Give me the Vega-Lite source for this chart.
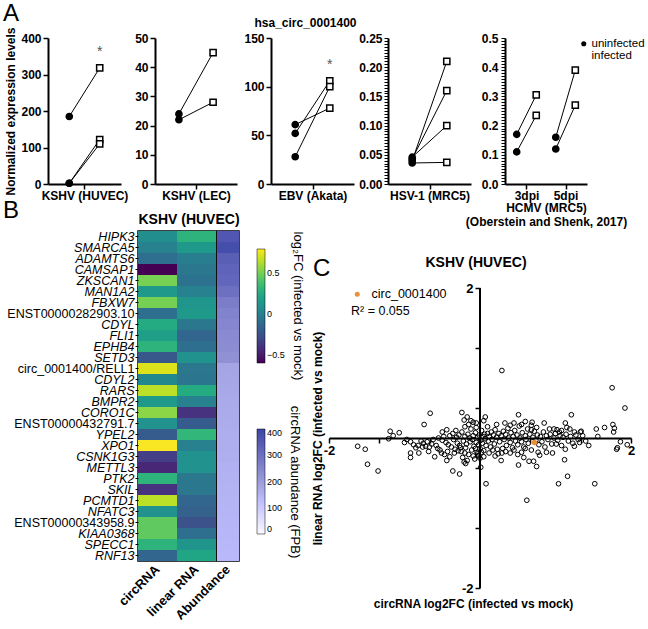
{
"$schema":"https://vega.github.io/schema/vega-lite/v6.json",
"padding":{"left":0,"top":1,"right":0,"bottom":0},
"title":{"text":"A","anchor":"start","fontSize":24,"fontWeight":"normal","offset":-14,"dx":3},
"columns":1,
"align":"none",
"spacing":-28,
"resolve":{"scale":{"color":"independent","shape":"independent","fill":"independent"},"legend":{"color":"independent","shape":"independent","fill":"independent"}},
"config":{
 "font":"Liberation Sans",
 "view":{"stroke":null},
 "axis":{"domainColor":"black","domainWidth":2,"tickColor":"black","tickWidth":1.5,"tickSize":5,"labelColor":"black","titleColor":"black","grid":false,"labelFontSize":12,"labelFontWeight":"bold","titleFontSize":12,"titleFontWeight":"bold","labelPadding":2},
 "title":{"color":"black"},
 "legend":{"labelColor":"black","titleColor":"black","padding":0}
},
"datasets":{
 "pA":[
  {"panel":"p1","grp":"uninfected","cond":"uninfected","pair":"a","val":185},
  {"panel":"p1","grp":"infected","cond":"infected","pair":"a","val":318},
  {"panel":"p1","grp":"uninfected","cond":"uninfected","pair":"b","val":2},
  {"panel":"p1","grp":"infected","cond":"infected","pair":"b","val":122},
  {"panel":"p1","grp":"uninfected","cond":"uninfected","pair":"c","val":2},
  {"panel":"p1","grp":"infected","cond":"infected","pair":"c","val":110},
  {"panel":"p2","grp":"uninfected","cond":"uninfected","pair":"a","val":24},
  {"panel":"p2","grp":"infected","cond":"infected","pair":"a","val":45},
  {"panel":"p2","grp":"uninfected","cond":"uninfected","pair":"b","val":22},
  {"panel":"p2","grp":"infected","cond":"infected","pair":"b","val":28},
  {"panel":"p3","grp":"uninfected","cond":"uninfected","pair":"a","val":61},
  {"panel":"p3","grp":"infected","cond":"infected","pair":"a","val":78},
  {"panel":"p3","grp":"uninfected","cond":"uninfected","pair":"b","val":52},
  {"panel":"p3","grp":"infected","cond":"infected","pair":"b","val":106},
  {"panel":"p3","grp":"uninfected","cond":"uninfected","pair":"c","val":28},
  {"panel":"p3","grp":"infected","cond":"infected","pair":"c","val":100},
  {"panel":"p4","grp":"uninfected","cond":"uninfected","pair":"a","val":0.040},
  {"panel":"p4","grp":"infected","cond":"infected","pair":"a","val":0.21},
  {"panel":"p4","grp":"uninfected","cond":"uninfected","pair":"b","val":0.043},
  {"panel":"p4","grp":"infected","cond":"infected","pair":"b","val":0.16},
  {"panel":"p4","grp":"uninfected","cond":"uninfected","pair":"c","val":0.046},
  {"panel":"p4","grp":"infected","cond":"infected","pair":"c","val":0.10},
  {"panel":"p4","grp":"uninfected","cond":"uninfected","pair":"d","val":0.036},
  {"panel":"p4","grp":"infected","cond":"infected","pair":"d","val":0.037},
  {"panel":"p5","grp":"3dpi|uninfected","cond":"uninfected","pair":"a","val":0.17},
  {"panel":"p5","grp":"3dpi|infected","cond":"infected","pair":"a","val":0.305},
  {"panel":"p5","grp":"3dpi|uninfected","cond":"uninfected","pair":"b","val":0.11},
  {"panel":"p5","grp":"3dpi|infected","cond":"infected","pair":"b","val":0.235},
  {"panel":"p5","grp":"5dpi|uninfected","cond":"uninfected","pair":"c","val":0.16},
  {"panel":"p5","grp":"5dpi|infected","cond":"infected","pair":"c","val":0.39},
  {"panel":"p5","grp":"5dpi|uninfected","cond":"uninfected","pair":"d","val":0.12},
  {"panel":"p5","grp":"5dpi|infected","cond":"infected","pair":"d","val":0.27}
 ],
 "stars":[
  {"panel":"p1","grp":"infected","val":318,"sig":"*"},
  {"panel":"p3","grp":"infected","val":106,"sig":"*"}
 ],
 "hm":[
  {"gene":"HIPK3","type":"circRNA","fc":0.08},{"gene":"HIPK3","type":"linear RNA","fc":0.3},
  {"gene":"SMARCA5","type":"circRNA","fc":0.0},{"gene":"SMARCA5","type":"linear RNA","fc":0.15},
  {"gene":"ADAMTS6","type":"circRNA","fc":-0.1},{"gene":"ADAMTS6","type":"linear RNA","fc":-0.02},
  {"gene":"CAMSAP1","type":"circRNA","fc":-0.6},{"gene":"CAMSAP1","type":"linear RNA","fc":-0.05},
  {"gene":"ZKSCAN1","type":"circRNA","fc":0.5},{"gene":"ZKSCAN1","type":"linear RNA","fc":-0.08},
  {"gene":"MAN1A2","type":"circRNA","fc":0.15},{"gene":"MAN1A2","type":"linear RNA","fc":0.0},
  {"gene":"FBXW7","type":"circRNA","fc":0.5},{"gene":"FBXW7","type":"linear RNA","fc":0.12},
  {"gene":"ENST00000282903.10","type":"circRNA","fc":-0.1},{"gene":"ENST00000282903.10","type":"linear RNA","fc":0.15},
  {"gene":"CDYL","type":"circRNA","fc":0.25},{"gene":"CDYL","type":"linear RNA","fc":-0.05},
  {"gene":"FLI1","type":"circRNA","fc":0.18},{"gene":"FLI1","type":"linear RNA","fc":-0.15},
  {"gene":"EPHB4","type":"circRNA","fc":0.3},{"gene":"EPHB4","type":"linear RNA","fc":-0.1},
  {"gene":"SETD3","type":"circRNA","fc":-0.22},{"gene":"SETD3","type":"linear RNA","fc":0.1},
  {"gene":"circ_0001400/RELL1","type":"circRNA","fc":0.72},{"gene":"circ_0001400/RELL1","type":"linear RNA","fc":-0.05},
  {"gene":"CDYL2","type":"circRNA","fc":0.05},{"gene":"CDYL2","type":"linear RNA","fc":-0.06},
  {"gene":"RARS","type":"circRNA","fc":0.65},{"gene":"RARS","type":"linear RNA","fc":0.25},
  {"gene":"BMPR2","type":"circRNA","fc":0.15},{"gene":"BMPR2","type":"linear RNA","fc":0.0},
  {"gene":"CORO1C","type":"circRNA","fc":0.55},{"gene":"CORO1C","type":"linear RNA","fc":-0.4},
  {"gene":"ENST00000432791.7","type":"circRNA","fc":0.1},{"gene":"ENST00000432791.7","type":"linear RNA","fc":-0.2},
  {"gene":"YPEL2","type":"circRNA","fc":-0.2},{"gene":"YPEL2","type":"linear RNA","fc":0.32},
  {"gene":"XPO1","type":"circRNA","fc":0.78},{"gene":"XPO1","type":"linear RNA","fc":0.0},
  {"gene":"CSNK1G3","type":"circRNA","fc":-0.35},{"gene":"CSNK1G3","type":"linear RNA","fc":0.1},
  {"gene":"METTL3","type":"circRNA","fc":-0.45},{"gene":"METTL3","type":"linear RNA","fc":0.1},
  {"gene":"PTK2","type":"circRNA","fc":0.3},{"gene":"PTK2","type":"linear RNA","fc":-0.05},
  {"gene":"SKIL","type":"circRNA","fc":-0.4},{"gene":"SKIL","type":"linear RNA","fc":-0.05},
  {"gene":"PCMTD1","type":"circRNA","fc":0.65},{"gene":"PCMTD1","type":"linear RNA","fc":-0.15},
  {"gene":"NFATC3","type":"circRNA","fc":0.1},{"gene":"NFATC3","type":"linear RNA","fc":-0.18},
  {"gene":"ENST00000343958.9","type":"circRNA","fc":0.45},{"gene":"ENST00000343958.9","type":"linear RNA","fc":-0.25},
  {"gene":"KIAA0368","type":"circRNA","fc":0.45},{"gene":"KIAA0368","type":"linear RNA","fc":-0.1},
  {"gene":"SPECC1","type":"circRNA","fc":0.3},{"gene":"SPECC1","type":"linear RNA","fc":0.12},
  {"gene":"RNF13","type":"circRNA","fc":-0.15},{"gene":"RNF13","type":"linear RNA","fc":0.22}
 ],
 "ab":[
  {"gene":"HIPK3","type":"Abundance","fpb":360},
  {"gene":"SMARCA5","type":"Abundance","fpb":380},
  {"gene":"ADAMTS6","type":"Abundance","fpb":340},
  {"gene":"CAMSAP1","type":"Abundance","fpb":330},
  {"gene":"ZKSCAN1","type":"Abundance","fpb":320},
  {"gene":"MAN1A2","type":"Abundance","fpb":300},
  {"gene":"FBXW7","type":"Abundance","fpb":270},
  {"gene":"ENST00000282903.10","type":"Abundance","fpb":255},
  {"gene":"CDYL","type":"Abundance","fpb":250},
  {"gene":"FLI1","type":"Abundance","fpb":240},
  {"gene":"EPHB4","type":"Abundance","fpb":235},
  {"gene":"SETD3","type":"Abundance","fpb":225},
  {"gene":"circ_0001400/RELL1","type":"Abundance","fpb":180},
  {"gene":"CDYL2","type":"Abundance","fpb":178},
  {"gene":"RARS","type":"Abundance","fpb":175},
  {"gene":"BMPR2","type":"Abundance","fpb":170},
  {"gene":"CORO1C","type":"Abundance","fpb":168},
  {"gene":"ENST00000432791.7","type":"Abundance","fpb":165},
  {"gene":"YPEL2","type":"Abundance","fpb":162},
  {"gene":"XPO1","type":"Abundance","fpb":160},
  {"gene":"CSNK1G3","type":"Abundance","fpb":158},
  {"gene":"METTL3","type":"Abundance","fpb":155},
  {"gene":"PTK2","type":"Abundance","fpb":152},
  {"gene":"SKIL","type":"Abundance","fpb":150},
  {"gene":"PCMTD1","type":"Abundance","fpb":148},
  {"gene":"NFATC3","type":"Abundance","fpb":146},
  {"gene":"ENST00000343958.9","type":"Abundance","fpb":144},
  {"gene":"KIAA0368","type":"Abundance","fpb":142},
  {"gene":"SPECC1","type":"Abundance","fpb":140},
  {"gene":"RNF13","type":"Abundance","fpb":138}
 ],
 "hl":[{"name":"circ_0001400","x":0.72,"y":-0.06}],
 "sc":[
  {"x":-1.62,"y":-0.11},{"x":-1.52,"y":-0.15},{"x":-1.49,"y":-0.35},{"x":-1.35,"y":-0.44},{"x":-1.19,"y":0.09},{"x":-1.07,"y":0.07},{"x":-1.15,"y":0.03},{"x":-1.21,"y":-0.01},{"x":-0.92,"y":-0.05},{"x":-0.92,"y":-0.2},{"x":-0.92,"y":-0.26},{"x":-0.81,"y":-0.2},{"x":-0.74,"y":0.18},{"x":-0.66,"y":0.33},{"x":-0.75,"y":-0.07},{"x":-0.72,"y":-0.11},{"x":-0.67,"y":-0.12},{"x":-0.6,"y":-0.25},{"x":-0.56,"y":-0.14},{"x":-0.44,"y":0.11},{"x":-0.44,"y":-0.3},{"x":-0.36,"y":-0.44},{"x":-0.27,"y":-0.48},{"x":-0.24,"y":0.34},{"x":-0.17,"y":0.28},{"x":-0.21,"y":0.24},{"x":-0.12,"y":0.23},{"x":-0.09,"y":0.21},{"x":-0.05,"y":0.14},{"x":0.05,"y":0.23},{"x":0.07,"y":0.28},{"x":0.01,"y":-0.39},{"x":0.08,"y":-0.61},{"x":-0.21,"y":-0.32},{"x":-0.19,"y":-0.34},{"x":-0.03,"y":-0.21},{"x":-0.03,"y":-0.24},{"x":0.28,"y":-0.3},{"x":0.51,"y":0.31},{"x":0.51,"y":-0.36},{"x":0.58,"y":-0.26},{"x":0.65,"y":-0.31},{"x":0.71,"y":-0.31},{"x":0.75,"y":-0.38},{"x":0.69,"y":0.21},{"x":0.68,"y":0.17},{"x":0.68,"y":0.11},{"x":0.92,"y":0.12},{"x":1.02,"y":0.11},{"x":1.05,"y":0.08},{"x":1.13,"y":0.2},{"x":1.15,"y":0.14},{"x":1.19,"y":0.12},{"x":1.21,"y":0.31},{"x":1.34,"y":0.09},{"x":1.33,"y":0.08},{"x":1.54,"y":0.12},{"x":1.65,"y":0.14},{"x":1.76,"y":0.18},{"x":1.78,"y":0.13},{"x":1.77,"y":0.08},{"x":1.56,"y":0.02},{"x":1.44,"y":-0.1},{"x":1.25,"y":-0.11},{"x":1.32,"y":-0.06},{"x":1.13,"y":-0.15},{"x":1.12,"y":-0.29},{"x":1.16,"y":-0.51},{"x":1.04,"y":-0.61},{"x":1.52,"y":-0.61},{"x":1.81,"y":-0.15},{"x":1.82,"y":-0.13},{"x":1.86,"y":-0.05},{"x":1.95,"y":-0.09},{"x":1.92,"y":0.4},{"x":0.79,"y":-0.23},{"x":0.77,"y":-0.19},{"x":0.88,"y":-0.19},{"x":1.01,"y":-0.08},{"x":0.96,"y":-0.2},{"x":0.29,"y":0.9},{"x":1.75,"y":0.67},{"x":0.62,"y":-0.83},
  {"x":-0.55,"y":0.0},{"x":-0.5,"y":-0.03},{"x":-0.48,"y":0.02},{"x":-0.45,"y":-0.06},{"x":-0.42,"y":-0.09},{"x":-0.4,"y":0.03},{"x":-0.38,"y":-0.12},{"x":-0.36,"y":0.06},{"x":-0.35,"y":-0.02},{"x":-0.33,"y":-0.15},{"x":-0.31,"y":0.01},{"x":-0.3,"y":-0.07},{"x":-0.28,"y":0.04},{"x":-0.27,"y":-0.1},{"x":-0.25,"y":-0.18},{"x":-0.24,"y":0.08},{"x":-0.22,"y":-0.04},{"x":-0.2,"y":0.02},{"x":-0.19,"y":-0.13},{"x":-0.18,"y":-0.08},{"x":-0.16,"y":0.05},{"x":-0.15,"y":-0.22},{"x":-0.14,"y":0.0},{"x":-0.13,"y":-0.05},{"x":-0.12,"y":0.12},{"x":-0.11,"y":-0.16},{"x":-0.1,"y":-0.02},{"x":-0.09,"y":0.03},{"x":-0.08,"y":-0.11},{"x":-0.07,"y":-0.28},{"x":-0.06,"y":0.07},{"x":-0.05,"y":-0.06},{"x":-0.04,"y":-0.19},{"x":-0.03,"y":0.01},{"x":-0.02,"y":-0.09},{"x":-0.01,"y":0.04},{"x":0.0,"y":-0.14},{"x":0.01,"y":-0.03},{"x":0.02,"y":0.1},{"x":0.03,"y":-0.07},{"x":0.04,"y":0.02},{"x":0.05,"y":-0.17},{"x":0.06,"y":0.05},{"x":0.07,"y":-0.01},{"x":0.08,"y":-0.1},{"x":0.1,"y":0.06},{"x":0.11,"y":-0.04},{"x":0.12,"y":0.02},{"x":0.14,"y":-0.12},{"x":0.15,"y":0.08},{"x":0.16,"y":-0.02},{"x":0.18,"y":0.04},{"x":0.19,"y":-0.08},{"x":0.2,"y":0.11},{"x":0.22,"y":0.01},{"x":0.23,"y":-0.15},{"x":0.25,"y":0.06},{"x":0.26,"y":-0.05},{"x":0.28,"y":0.03},{"x":0.29,"y":-0.2},{"x":0.31,"y":0.09},{"x":0.32,"y":-0.02},{"x":0.34,"y":0.05},{"x":0.35,"y":-0.1},{"x":0.37,"y":0.13},{"x":0.38,"y":0.0},{"x":0.4,"y":-0.06},{"x":0.41,"y":0.07},{"x":0.43,"y":-0.13},{"x":0.44,"y":0.02},{"x":0.46,"y":0.1},{"x":0.47,"y":-0.04},{"x":0.49,"y":0.04},{"x":0.5,"y":-0.09},{"x":0.52,"y":0.16},{"x":0.53,"y":0.0},{"x":0.55,"y":-0.05},{"x":0.56,"y":0.07},{"x":0.58,"y":-0.12},{"x":0.6,"y":0.03},{"x":0.61,"y":-0.02},{"x":0.63,"y":0.12},{"x":0.64,"y":-0.07},{"x":0.66,"y":0.05},{"x":0.68,"y":-0.16},{"x":0.7,"y":0.01},{"x":0.72,"y":0.09},{"x":0.74,"y":-0.03},{"x":0.76,"y":0.04},{"x":0.78,"y":-0.09},{"x":0.8,"y":0.02},{"x":0.82,"y":-0.05},{"x":0.84,"y":0.08},{"x":0.86,"y":-0.12},{"x":0.88,"y":0.03},{"x":0.9,"y":-0.02},{"x":0.93,"y":0.05},{"x":0.95,"y":-0.08},{"x":0.98,"y":0.0},{"x":1.0,"y":0.06},{"x":1.03,"y":-0.03},{"x":1.06,"y":0.03},{"x":1.08,"y":-0.1},{"x":1.1,"y":0.01},{"x":1.14,"y":0.05},{"x":1.17,"y":-0.04},{"x":1.2,"y":0.02},{"x":1.23,"y":-0.07},{"x":1.27,"y":0.04},{"x":1.3,"y":-0.02},{"x":1.36,"y":0.03},{"x":1.4,"y":-0.04},
  {"x":-1.0,"y":-0.06},{"x":-0.97,"y":-0.02},{"x":-0.88,"y":-0.09},{"x":-0.85,"y":-0.13},{"x":-0.82,"y":-0.1},{"x":-0.78,"y":-0.04},{"x":-0.76,"y":-0.12},{"x":-0.7,"y":-0.05},{"x":-0.68,"y":-0.18},{"x":-0.64,"y":-0.08},{"x":-0.62,"y":-0.02},{"x":-0.58,"y":-0.1},{"x":-0.53,"y":-0.16},{"x":-0.51,"y":-0.2},{"x":-0.47,"y":-0.22},{"x":-0.43,"y":-0.18},{"x":-0.4,"y":-0.25},{"x":-0.34,"y":-0.2},{"x":-0.29,"y":-0.17},{"x":-0.26,"y":-0.13},{"x":-0.23,"y":-0.26},{"x":-0.2,"y":-0.2},{"x":-0.17,"y":-0.3},{"x":-0.09,"y":-0.24},{"x":-0.06,"y":-0.14},{"x":-0.02,"y":-0.23},{"x":0.0,"y":-0.27},{"x":0.02,"y":-0.19},{"x":0.05,"y":-0.25},{"x":0.12,"y":-0.2},{"x":0.17,"y":-0.16},{"x":0.2,"y":-0.24},{"x":0.24,"y":-0.21},{"x":0.3,"y":-0.14},{"x":0.34,"y":-0.18},{"x":0.4,"y":-0.2},{"x":0.45,"y":-0.16},{"x":0.5,"y":-0.22},{"x":0.55,"y":-0.19},{"x":0.6,"y":-0.14},
  {"x":-0.5,"y":0.08},{"x":-0.32,"y":0.1},{"x":-0.2,"y":0.15},{"x":-0.15,"y":0.18},{"x":-0.05,"y":0.2},{"x":0.1,"y":0.15},{"x":0.22,"y":0.18},{"x":0.33,"y":0.2},{"x":0.4,"y":0.17},{"x":0.45,"y":0.2},{"x":0.55,"y":0.18},{"x":0.6,"y":0.22},{"x":0.75,"y":0.14},{"x":0.85,"y":0.2},{"x":0.98,"y":0.12},{"x":1.08,"y":0.1},{"x":1.25,"y":0.08}
 ]
},
"concat":[
 {
  "spacing":34,
  "bounds":"flush",
  "resolve":{"scale":{"shape":"independent","fill":"independent"},"legend":{"shape":"independent","fill":"independent"}},
  "hconcat":[
   {"width":14,"height":1,"data":{"values":[]},"mark":{"type":"point","opacity":0}},
   {
    "width":73,"height":146,
    "title":{"text":" ","fontSize":12,"offset":2},
    "data":{"name":"pA"},
    "transform":[{"filter":"datum.panel==='p1'"}],
    "encoding":{
     "x":{"field":"grp","type":"nominal","scale":{"type":"point","domain":["uninfected","infected"],"padding":0.7},
      "axis":{"title":"KSHV (HUVEC)","labels":false,"tickOffset":15.2,"tickColor":{"condition":{"test":"datum.value==='infected'","value":"transparent"},"value":"black"},"titlePadding":1}},
     "y":{"field":"val","type":"quantitative","scale":{"domain":[0,400],"nice":false},"axis":{"title":"Normalized expression levels","values":[0,100,200,300,400],"titlePadding":3}}
    },
    "layer":[
     {"mark":{"type":"line","color":"black","strokeWidth":1},"encoding":{"detail":{"field":"pair"}}},
     {"mark":{"type":"point","filled":true,"stroke":"black","strokeWidth":1.5,"size":38,"opacity":1},
      "encoding":{"shape":{"field":"cond","type":"nominal","scale":{"domain":["uninfected","infected"],"range":["circle","square"]},"legend":null},
       "fill":{"field":"cond","type":"nominal","scale":{"domain":["uninfected","infected"],"range":["black","white"]},"legend":null}}},
     {"data":{"name":"stars"},"transform":[{"filter":"datum.panel==='p1'"}],"mark":{"type":"text","color":"#555555","fontSize":14,"dy":-16},"encoding":{"text":{"field":"sig"}}}
    ]
   },
   {
    "width":82,"height":146,
    "title":{"text":" ","fontSize":12,"offset":2},
    "data":{"name":"pA"},
    "transform":[{"filter":"datum.panel==='p2'"}],
    "encoding":{
     "x":{"field":"grp","type":"nominal","scale":{"type":"point","domain":["uninfected","infected"],"padding":0.7},
      "axis":{"title":"KSHV (LEC)","labels":false,"tickOffset":17.1,"tickColor":{"condition":{"test":"datum.value==='infected'","value":"transparent"},"value":"black"},"titlePadding":1}},
     "y":{"field":"val","type":"quantitative","scale":{"domain":[0,50],"nice":false},"axis":{"title":null,"values":[0,10,20,30,40,50]}}
    },
    "layer":[
     {"mark":{"type":"line","color":"black","strokeWidth":1},"encoding":{"detail":{"field":"pair"}}},
     {"mark":{"type":"point","filled":true,"stroke":"black","strokeWidth":1.5,"size":38,"opacity":1},
      "encoding":{"shape":{"field":"cond","type":"nominal","scale":{"domain":["uninfected","infected"],"range":["circle","square"]},"legend":null},
       "fill":{"field":"cond","type":"nominal","scale":{"domain":["uninfected","infected"],"range":["black","white"]},"legend":null}}}
    ]
   },
   {
    "width":83,"height":146,
    "title":{"text":"hsa_circ_0001400","fontSize":12,"fontWeight":"bold","offset":2,"dx":-7},
    "data":{"name":"pA"},
    "transform":[{"filter":"datum.panel==='p3'"}],
    "encoding":{
     "x":{"field":"grp","type":"nominal","scale":{"type":"point","domain":["uninfected","infected"],"padding":0.7},
      "axis":{"title":"EBV (Akata)","labels":false,"tickOffset":17.3,"tickColor":{"condition":{"test":"datum.value==='infected'","value":"transparent"},"value":"black"},"titlePadding":1}},
     "y":{"field":"val","type":"quantitative","scale":{"domain":[0,150],"nice":false},"axis":{"title":null,"values":[0,50,100,150]}}
    },
    "layer":[
     {"mark":{"type":"line","color":"black","strokeWidth":1},"encoding":{"detail":{"field":"pair"}}},
     {"mark":{"type":"point","filled":true,"stroke":"black","strokeWidth":1.5,"size":38,"opacity":1},
      "encoding":{"shape":{"field":"cond","type":"nominal","scale":{"domain":["uninfected","infected"],"range":["circle","square"]},"legend":null},
       "fill":{"field":"cond","type":"nominal","scale":{"domain":["uninfected","infected"],"range":["black","white"]},"legend":null}}},
     {"data":{"name":"stars"},"transform":[{"filter":"datum.panel==='p3'"}],"mark":{"type":"text","color":"#555555","fontSize":14,"dy":-16},"encoding":{"text":{"field":"sig"}}}
    ]
   },
   {
    "width":83,"height":146,
    "title":{"text":" ","fontSize":12,"offset":2},
    "data":{"name":"pA"},
    "transform":[{"filter":"datum.panel==='p4'"}],
    "encoding":{
     "x":{"field":"grp","type":"nominal","scale":{"type":"point","domain":["uninfected","infected"],"padding":0.7},
      "axis":{"title":"HSV-1 (MRC5)","labels":false,"tickOffset":17.3,"tickColor":{"condition":{"test":"datum.value==='infected'","value":"transparent"},"value":"black"},"titlePadding":1}},
     "y":{"field":"val","type":"quantitative","scale":{"domain":[0,0.25],"nice":false},"axis":{"title":null,"tickSize":4,"tickWidth":1,"labelOverlap":false,
      "values":[0,0.005,0.01,0.015,0.02,0.025,0.03,0.035,0.04,0.045,0.05,0.055,0.06,0.065,0.07,0.075,0.08,0.085,0.09,0.095,0.1,0.105,0.11,0.115,0.12,0.125,0.13,0.135,0.14,0.145,0.15,0.155,0.16,0.165,0.17,0.175,0.18,0.185,0.19,0.195,0.2,0.205,0.21,0.215,0.22,0.225,0.23,0.235,0.24,0.245,0.25],
      "labelExpr":"(round(datum.value*1000) % 50 === 0) ? format(datum.value, '.2f') : ''"}}
    },
    "layer":[
     {"mark":{"type":"line","color":"black","strokeWidth":1},"encoding":{"detail":{"field":"pair"}}},
     {"mark":{"type":"point","filled":true,"stroke":"black","strokeWidth":1.5,"size":38,"opacity":1},
      "encoding":{"shape":{"field":"cond","type":"nominal","scale":{"domain":["uninfected","infected"],"range":["circle","square"]},"legend":null},
       "fill":{"field":"cond","type":"nominal","scale":{"domain":["uninfected","infected"],"range":["black","white"]},"legend":null}}}
    ]
   },
   {
    "width":82,"height":146,
    "title":{"text":" ","fontSize":12,"offset":2},
    "data":{"name":"pA"},
    "transform":[{"filter":"datum.panel==='p5'"}],
    "encoding":{
     "x":{"field":"grp","type":"nominal","scale":{"type":"point","domain":["3dpi|uninfected","3dpi|infected","5dpi|uninfected","5dpi|infected"],"padding":0.6},
      "axis":{"title":["HCMV (MRC5)","(Oberstein and Shenk, 2017)"],"titleLineHeight":14,"tickOffset":9.75,"labelPadding":1,
       "labelExpr":"datum.value==='3dpi|uninfected' ? '3dpi' : (datum.value==='5dpi|uninfected' ? '5dpi' : '')",
       "labelAngle":0,"labelOverlap":false,
       "tickColor":{"condition":{"test":"datum.value==='3dpi|infected' || datum.value==='5dpi|infected'","value":"transparent"},"value":"black"},"titlePadding":1}},
     "y":{"field":"val","type":"quantitative","scale":{"domain":[0,0.5],"nice":false},"axis":{"title":null,"tickSize":4,"tickWidth":1,"labelOverlap":false,"labelPadding":3,
      "values":[0,0.01,0.02,0.03,0.04,0.05,0.06,0.07,0.08,0.09,0.1,0.11,0.12,0.13,0.14,0.15,0.16,0.17,0.18,0.19,0.2,0.21,0.22,0.23,0.24,0.25,0.26,0.27,0.28,0.29,0.3,0.31,0.32,0.33,0.34,0.35,0.36,0.37,0.38,0.39,0.4,0.41,0.42,0.43,0.44,0.45,0.46,0.47,0.48,0.49,0.5],
      "labelExpr":"(round(datum.value*100) % 10 === 0) ? format(datum.value, '.1f') : ''"}}
    },
    "layer":[
     {"mark":{"type":"line","color":"black","strokeWidth":1},"encoding":{"detail":{"field":"pair"}}},
     {"mark":{"type":"point","filled":true,"stroke":"black","strokeWidth":1.5,"size":38,"opacity":1},
      "encoding":{"shape":{"field":"cond","type":"nominal","scale":{"domain":["uninfected","infected"],"range":["circle","square"]},
        "legend":{"orient":"none","legendX":73,"legendY":0,"title":null,"labelFontSize":11.5,"labelFontWeight":"normal","symbolSize":26,"symbolStrokeWidth":1.5,"symbolStrokeColor":"black","rowPadding":-3,"labelOffset":2,
         "encode":{"symbols":{"update":{"stroke":{"value":"black"},"strokeWidth":{"value":1.5}}}}}},
       "fill":{"field":"cond","type":"nominal","scale":{"domain":["uninfected","infected"],"range":["black","white"]},
        "legend":{"orient":"none","legendX":73,"legendY":0,"title":null,"labelFontSize":11.5,"labelFontWeight":"normal","symbolSize":26,"symbolStrokeWidth":1.5,"symbolStrokeColor":"black","rowPadding":-3,"labelOffset":2,
         "encode":{"symbols":{"update":{"stroke":{"value":"black"},"strokeWidth":{"value":1.5}}}}}}}}
    ]
   }
  ]
 },
 {
  "title":{"text":"B","anchor":"start","fontSize":24,"fontWeight":"normal","offset":-11,"dx":3},
  "spacing":5,
  "resolve":{"scale":{"color":"independent"},"legend":{"color":"independent"}},
  "hconcat":[
   {"width":1,"height":1,"data":{"values":[]},"mark":{"type":"point","opacity":0}},
   {
    "spacing":1,
    "bounds":"flush",
    "resolve":{"scale":{"color":"independent"},"legend":{"color":"independent"}},
    "hconcat":[
     {
      "width":78,"height":330,
      "title":{"text":"KSHV (HUVEC)","fontSize":14,"fontWeight":"bold","offset":3,"dx":12},
      "data":{"name":"hm"},
      "mark":{"type":"rect"},
      "view":{"stroke":"black","strokeWidth":1.5},
      "encoding":{
       "y":{"field":"gene","type":"nominal","sort":null,"axis":{"title":null,"labelFontSize":12.5,"labelFontWeight":"normal","labelFontStyle":{"condition":{"test":"indexof(datum.value,'ENST')===0 || indexof(datum.value,'circ')===0","value":"normal"},"value":"italic"},"tickSize":3,"tickWidth":1,"domain":false,"labelPadding":1,"labelLimit":220}},
       "x":{"field":"type","type":"nominal","sort":["circRNA","linear RNA"],"axis":{"title":null,"labelAngle":-45,"labelAlign":"right","labelBaseline":"middle","ticks":false,"domain":false,"labelFontSize":13,"labelFontWeight":"bold","labelPadding":6}},
       "color":{"field":"fc","type":"quantitative","scale":{"scheme":"viridis","domain":[-0.6,0.79]},"legend":null}
      }
     },
     {
      "width":22,"height":330,
      "title":{"text":" ","fontSize":14,"offset":3},
      "view":{"stroke":"black","strokeWidth":1.5},
      "resolve":{"scale":{"color":"independent"},"legend":{"color":"independent"}},
      "layer":[
       {
        "data":{"name":"ab"},
        "mark":{"type":"rect"},
        "encoding":{
         "y":{"field":"gene","type":"nominal","sort":null,"axis":null},
         "x":{"field":"type","type":"nominal","axis":{"title":null,"labelAngle":-45,"labelAlign":"right","labelBaseline":"middle","ticks":false,"domain":false,"labelFontSize":13,"labelFontWeight":"bold","labelPadding":6}},
         "color":{"field":"fpb","type":"quantitative","scale":{"domain":[0,200,400],"range":["#ffffff","#9c9cdc","#3a46a6"]},
          "legend":{"orient":"none","legendX":40,"legendY":198,"direction":"vertical","gradientLength":105,"gradientThickness":8,"title":"circRNA abundance (FPB)","titleOrient":"right","titleFontSize":13,"titleFontWeight":"normal","titlePadding":6,"values":[0,100,200,300,400],"labelFontSize":9,"gradientStrokeColor":"black","gradientStrokeWidth":0.5}}
        }
       },
       {
        "data":{"name":"hm"},
        "mark":{"type":"point","opacity":0},
        "encoding":{
         "color":{"field":"fc","type":"quantitative","scale":{"scheme":"viridis","domain":[-0.6,0.79]},
          "legend":{"orient":"none","legendX":40,"legendY":18,"direction":"vertical","gradientLength":114,"gradientThickness":8,"title":"log₂FC (infected vs mock)","titleOrient":"right","titleFontSize":13,"titleFontWeight":"normal","titlePadding":6,"values":[-0.5,0,0.5],"labelFontSize":9,"format":"~g","gradientStrokeColor":"black","gradientStrokeWidth":0.5}}
        }
       }
      ]
     }
    ]
   },
   {
    "title":{"text":"C","anchor":"start","fontSize":24,"fontWeight":"normal","offset":-50,"dx":2},
    "vconcat":[
     {
      "width":302,"height":357,
      "title":{"text":"KSHV (HUVEC)","fontSize":14,"fontWeight":"bold","offset":-39,"dx":-4},
      "layer":[
       {"data":{"values":[{}]},"mark":{"type":"rule","color":"black","strokeWidth":2},"encoding":{"x":{"datum":0,"type":"quantitative"},"y":{"datum":-2,"type":"quantitative"},"y2":{"datum":2}}},
       {"data":{"name":"sc"},"mark":{"type":"point","color":"black","size":22,"strokeWidth":1,"opacity":1},
        "encoding":{
         "x":{"field":"x","type":"quantitative","scale":{"domain":[-2,2],"nice":false,"zero":false},
          "axis":{"orient":"bottom","offset":-150,"labelFlush":false,"labelOverlap":false,"labelFontSize":13,"labelPadding":1,
           "values":[-2,-1.8333,-1.6667,-1.5,-1.3333,-1.1667,-1,-0.8333,-0.6667,-0.5,-0.3333,-0.1667,0,0.1667,0.3333,0.5,0.6667,0.8333,1,1.1667,1.3333,1.5,1.6667,1.8333,2],
           "labelExpr":"(abs(datum.value - round(datum.value)) < 0.01 && round(datum.value) != 0) ? ('' + round(datum.value)) : ''",
           "title":"circRNA log2FC (infected vs mock)","titleX":144,"titleY":160,"titleAlign":"center","titleBaseline":"top"}},
         "y":{"field":"y","type":"quantitative","scale":{"domain":[-2,2.76],"nice":false,"zero":false},
          "axis":{"orient":"left","offset":-151,"domain":false,"labelOverlap":false,"labelFontSize":13,"labelPadding":2,
           "values":[-2,-1.8,-1.6,-1.4,-1.2,-1,-0.8,-0.6,-0.4,-0.2,0,0.2,0.4,0.6,0.8,1,1.2,1.4,1.6,1.8,2],
           "labelExpr":"(abs(datum.value - round(datum.value)) < 0.01 && round(datum.value) != 0) ? ('' + round(datum.value)) : ''",
           "title":"linear RNA log2FC (infected vs mock)","titleX":-163,"titleY":207,"titleAngle":270,"titleAlign":"center","titleBaseline":"middle"}}
        }},
       {"data":{"name":"hl"},"mark":{"type":"point","filled":true,"size":30,"opacity":1},
        "encoding":{"x":{"field":"x","type":"quantitative"},"y":{"field":"y","type":"quantitative"},
         "color":{"field":"name","type":"nominal","scale":{"range":["#e8913a"]},
          "legend":{"orient":"none","legendX":22,"legendY":57,"title":"R² = 0.055","titleOrient":"bottom","titleFontSize":12.5,"titleFontWeight":"normal","titlePadding":4,"labelFontSize":12.5,"symbolSize":25,"labelOffset":8}}}}
      ]
     }
    ]
   }
  ]
 }
]
}
